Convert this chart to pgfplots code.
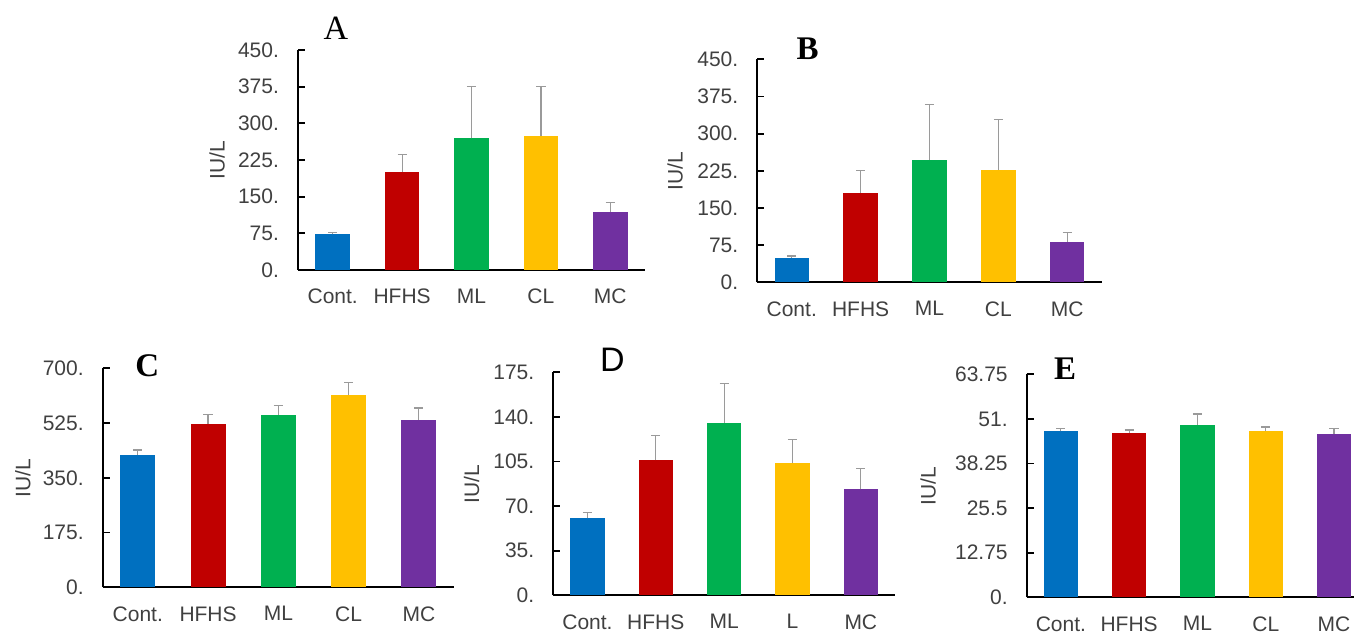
\documentclass[border=0pt]{standalone}
\usepackage{pgfplots}
\pgfplotsset{compat=1.18}
\usepackage{fontspec}
\setmainfont{Liberation Sans}
\newfontfamily\labelfont{Liberation Sans}
\newfontfamily\titleserif{Liberation Serif}
\definecolor{cblue}{HTML}{0070C0}
\definecolor{cred}{HTML}{C00000}
\definecolor{cgreen}{HTML}{00B050}
\definecolor{cyellow}{HTML}{FFC000}
\definecolor{cpurple}{HTML}{7030A0}
\definecolor{errgray}{HTML}{9A9A9A}
\definecolor{txt}{HTML}{404040}
\pgfplotsset{
  panel/.style={
    scale only axis, anchor=south west,
    xmin=-0.5, xmax=4.5, ymin=0,
    axis x line=bottom, axis y line=left,
    axis line style={line width=0.9pt, black, -},
    tick align=inside, major tick length=3.5pt,
    xtick={0,1,2,3,4}, xticklabels={Cont.,HFHS,ML,CL,MC},
    x tick style={draw=none},
    y tick style={line width=0.9pt, black},
    tick label style={font=\labelfont\fontsize{10.5}{12}\selectfont, text=txt},
    yticklabel style={xshift=-6pt},
    xticklabel style={yshift=-6pt},
    ylabel={IU/L},
    ylabel style={font=\labelfont\fontsize{10.5}{12}\selectfont, text=txt, anchor=center},
    clip=false,
  },
  bar/.style={ybar, bar width=0.5, bar shift=0pt, fill=#1, draw=none,
    error bars/.cd, y dir=plus, y explicit, error mark=|,
    error bar style={line width=0.6pt, color=errgray},
    error mark options={line width=0.6pt, color=errgray, mark size=2.3pt}},
}
\begin{document}
\begin{tikzpicture}
\path[use as bounding box] (0,0) rectangle (677pt,317.5pt);

% Panel A
\begin{axis}[panel, at={(149pt,182.5pt)}, width=173.5pt, height=110pt,
  ymax=450, ytick={0,75,150,225,300,375,450},
  yticklabels={0.,75.,150.,225.,300.,375.,450.},
  ylabel style={at={(axis description cs:-0.233,0.5)}}]
\addplot[bar=cblue] coordinates {(0,73) +- (0,4)};
\addplot[bar=cred] coordinates {(1,200) +- (0,37)};
\addplot[bar=cgreen] coordinates {(2,269) +- (0,106)};
\addplot[bar=cyellow] coordinates {(3,275) +- (0,101)};
\addplot[bar=cpurple] coordinates {(4,119) +- (0,19.5)};
\end{axis}

% Panel B
\begin{axis}[panel, at={(378.65pt,176.35pt)}, width=172.2pt, height=111.5pt,
  ymax=450, ytick={0,75,150,225,300,375,450},
  yticklabels={0.,75.,150.,225.,300.,375.,450.},
  ylabel style={at={(axis description cs:-0.239,0.5)}}]
\addplot[bar=cblue] coordinates {(0,50) +- (0,3)};
\addplot[bar=cred] coordinates {(1,181) +- (0,44)};
\addplot[bar=cgreen] coordinates {(2,247.5) +- (0,111.5)};
\addplot[bar=cyellow] coordinates {(3,227) +- (0,102)};
\addplot[bar=cpurple] coordinates {(4,81) +- (0,19)};
\end{axis}

% Panel C
\begin{axis}[panel, at={(51.35pt,23.85pt)}, width=175.65pt, height=109.5pt,
  ymax=700, ytick={0,175,350,525,700},
  yticklabels={0.,175.,350.,525.,700.},
  ylabel style={at={(axis description cs:-0.227,0.5)}}]
\addplot[bar=cblue] coordinates {(0,424) +- (0,15)};
\addplot[bar=cred] coordinates {(1,522) +- (0,30)};
\addplot[bar=cgreen] coordinates {(2,551) +- (0,31)};
\addplot[bar=cyellow] coordinates {(3,615) +- (0,40)};
\addplot[bar=cpurple] coordinates {(4,534) +- (0,39)};
\end{axis}

% Panel D
\begin{axis}[panel, at={(276.65pt,19.85pt)}, width=170.85pt, height=111.5pt,
  ymax=175, ytick={0,35,70,105,140,175},
  yticklabels={0.,35.,70.,105.,140.,175.},
  xticklabels={Cont.,HFHS,ML,L,MC},
  ylabel style={at={(axis description cs:-0.239,0.5)}}]
\addplot[bar=cblue] coordinates {(0,60.4) +- (0,4.8)};
\addplot[bar=cred] coordinates {(1,106) +- (0,19.6)};
\addplot[bar=cgreen] coordinates {(2,135.3) +- (0,30.6)};
\addplot[bar=cyellow] coordinates {(3,103.9) +- (0,18.5)};
\addplot[bar=cpurple] coordinates {(4,83.2) +- (0,16.5)};
\end{axis}

% Panel E
\begin{axis}[panel, at={(513.35pt,18.85pt)}, width=170.75pt, height=111.5pt,
  ymax=63.75, ytick={0,12.75,25.5,38.25,51,63.75},
  yticklabels={0.,12.75,25.5,38.25,51.,63.75},
  ylabel style={at={(axis description cs:-0.289,0.5)}}]
\addplot[bar=cblue] coordinates {(0,47.4) +- (0,0.9)};
\addplot[bar=cred] coordinates {(1,47.0) +- (0,0.8)};
\addplot[bar=cgreen] coordinates {(2,49.3) +- (0,3.1)};
\addplot[bar=cyellow] coordinates {(3,47.6) +- (0,1.1)};
\addplot[bar=cpurple] coordinates {(4,46.8) +- (0,1.4)};
\end{axis}

% Panel titles
\node[anchor=base, font=\titleserif\fontsize{17}{19}\selectfont] at (167.9pt,297.85pt) {A};
\node[anchor=base, font=\titleserif\bfseries\fontsize{16.5}{18}\selectfont] at (403.75pt,287.5pt) {B};
\node[anchor=base, font=\titleserif\bfseries\fontsize{16.5}{18}\selectfont] at (73.6pt,129.17pt) {C};
\node[anchor=base, font=\labelfont\fontsize{17}{19}\selectfont] at (306.25pt,131.67pt) {D};
\node[anchor=base, font=\titleserif\bfseries\fontsize{16.5}{18}\selectfont] at (532.5pt,127.5pt) {E};
\end{tikzpicture}
\end{document}
